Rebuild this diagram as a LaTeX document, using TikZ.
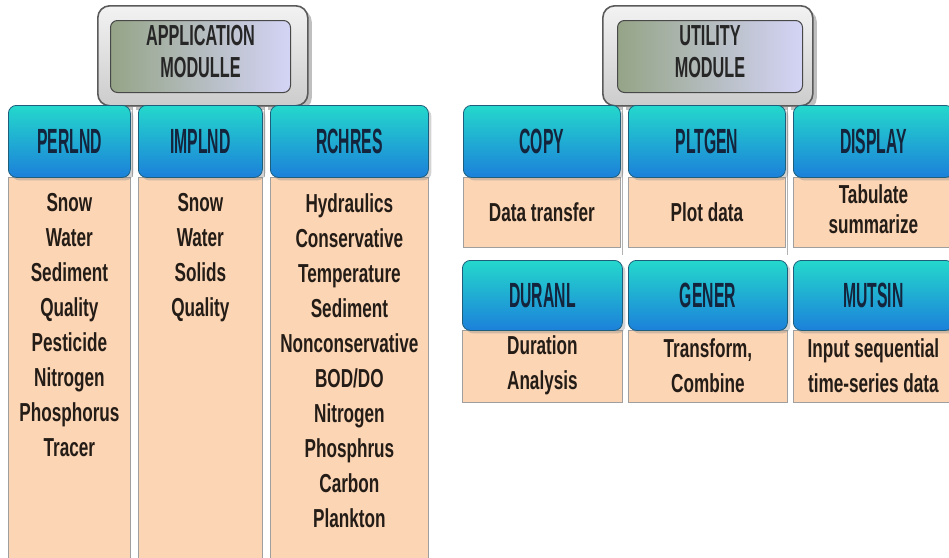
\documentclass[tikz,border=0pt]{standalone}
\usepackage{fontspec}
\setmainfont{Liberation Sans}
\newfontfamily\hdrf[FakeStretch=0.45]{Liberation Sans Bold}
\newfontfamily\bodyf[FakeStretch=0.66]{Liberation Sans Bold}
\newfontfamily\modf[FakeStretch=0.56]{Liberation Sans Bold}
\usetikzlibrary{shadows,calc}
\definecolor{peach}{HTML}{FCD5B4}
\definecolor{hdrtop}{HTML}{24D8CC}
\definecolor{hdrbot}{HTML}{1C80DA}
\definecolor{hdredge}{HTML}{1E5E7A}
\definecolor{hdrtext}{HTML}{14243C}
\definecolor{bodytext}{HTML}{241C16}
\definecolor{frameedge}{HTML}{5A5A5A}
\definecolor{innerleft}{HTML}{95A487}
\definecolor{innerright}{HTML}{D4D4F6}
\tikzset{
  hdr/.style={draw=hdredge, line width=0.8pt, rounded corners=8pt, top color=hdrtop, bottom color=hdrbot,
    minimum height=72pt, anchor=north west, inner sep=0pt, text=hdrtext,
    font=\hdrf\fontsize{35}{38}\selectfont,
    drop shadow={shadow xshift=3pt, shadow yshift=-3pt, opacity=0.35}},
  bodybox/.style={draw=gray!75, line width=0.8pt, fill=peach, anchor=north west, inner sep=0pt},
  btxt/.style={anchor=north, inner sep=0pt, align=center, text=bodytext,
    font=\bodyf\fontsize{26}{35}\selectfont},
  outerframe/.style={draw=frameedge, line width=1.6pt, rounded corners=12pt, top color=gray!10, bottom color=gray!40,
    anchor=north west, inner sep=0pt,
    drop shadow={shadow xshift=4pt, shadow yshift=-4pt, opacity=0.5}},
  innerbox/.style={draw=frameedge!80!black, line width=1pt, rounded corners=7pt, left color=innerleft, right color=innerright,
    anchor=north west, inner sep=0pt},
  modtxt/.style={inner sep=0pt, align=center, text=black!85,
    font=\modf\fontsize{29}{32}\selectfont},
  conn/.style={draw=gray!60, double=white, double distance=3pt, line width=0.8pt},
}
\begin{document}
\begin{tikzpicture}[x=1pt,y=-1pt]
\useasboundingbox (0,0) rectangle (949,557);
\clip (0,0) rectangle (949,557);

% ---------- Application module ----------
\coordinate (ga) at (134,177);
\coordinate (gb) at (266,177);
\node[outerframe, minimum width=210pt, minimum height=100pt] (aframe) at (97,5) {};
\draw[conn] (aframe.south -| ga) -- (ga);
\draw[conn] (aframe.south -| gb) -- (gb);
\node[innerbox, minimum width=180pt, minimum height=72pt] (ainner) at (110,20) {};
\node[modtxt] (atxt) at ($(ainner.center)+(0,-5)$) {APPLICATION\\MODULLE};

\node[bodybox, minimum width=122pt, minimum height=382pt] (pbody) at (8,177) {};
\node[bodybox, minimum width=124pt, minimum height=382pt] (ibody) at (138,177) {};
\node[bodybox, minimum width=158pt, minimum height=382pt] (rbody) at (270,177) {};

\node[hdr, minimum width=122pt] (perlnd) at (8,105) {PERLND};
\node[hdr, minimum width=124pt] (implnd) at (138,105) {IMPLND};
\node[hdr, minimum width=158pt] (rchres) at (270,105) {RCHRES};

\node[btxt] (ptxt) at ($(pbody.north)+(0,16)$) {Snow\\Water\\Sediment\\Quality\\Pesticide\\Nitrogen\\Phosphorus\\Tracer};
\node[btxt] (itxt) at ($(ibody.north)+(0,16)$) {Snow\\Water\\Solids\\Quality};
\node[btxt] (rtxt) at ($(rbody.north)+(0,16)$) {Hydraulics\\Conservative\\Temperature\\Sediment\\Nonconservative\\BOD/DO\\Nitrogen\\Phosphrus\\Carbon\\Plankton};

% ---------- Utility module ----------
\coordinate (gc) at (624,255);
\coordinate (gd) at (789,255);
\node[outerframe, minimum width=210pt, minimum height=100pt] (uframe) at (602,5) {};
\draw[conn] (uframe.south -| gc) -- (gc);
\draw[conn] (uframe.south -| gd) -- (gd);
\node[innerbox, minimum width=185pt, minimum height=72pt] (uinner) at (617,20) {};
\node[modtxt] (utxt) at ($(uinner.center)+(0,-5)$) {UTILITY\\MODULE};

\node[bodybox, minimum width=157pt, minimum height=70pt] (copyb) at (463,177) {};
\node[bodybox, minimum width=157pt, minimum height=70pt] (pltb) at (628,177) {};
\node[bodybox, minimum width=160pt, minimum height=70pt] (dispb) at (793,177) {};
\node[hdr, minimum width=157pt] (copy) at (463,105) {COPY};
\node[hdr, minimum width=157pt] (pltgen) at (628,105) {PLTGEN};
\node[hdr, minimum width=160pt] (display) at (793,105) {DISPLAY};

\node[btxt, anchor=center] (copyt) at ($(copyb.center)+(0,0)$) {Data transfer};
\node[btxt, anchor=center] (pltt) at ($(pltb.center)+(0,0)$) {Plot data};
\node[btxt, anchor=center, font=\bodyf\fontsize{26}{30}\selectfont] (dispt) at ($(dispb.center)+(0,-3)$) {Tabulate\\summarize};

\node[bodybox, minimum width=160pt, minimum height=72pt] (durb) at (462,330) {};
\node[bodybox, minimum width=159pt, minimum height=72pt] (genb) at (628,330) {};
\node[bodybox, minimum width=160pt, minimum height=72pt] (mutb) at (793,330) {};
\node[hdr, minimum width=160pt, minimum height=70pt] (duranl) at (462,260) {DURANL};
\node[hdr, minimum width=159pt, minimum height=70pt] (gener) at (628,260) {GENER};
\node[hdr, minimum width=160pt, minimum height=70pt] (mutsin) at (793,260) {MUTSIN};

\node[btxt, anchor=center] (durt) at ($(durb.center)+(0,-1)$) {Duration\\Analysis};
\node[btxt, anchor=center] (gent) at ($(genb.center)+(0,-1)$) {Transform,\\Combine};
\node[btxt, anchor=center] (mutt) at ($(mutb.center)+(0,-1)$) {Input sequential\\time-series data};
\end{tikzpicture}
\end{document}
